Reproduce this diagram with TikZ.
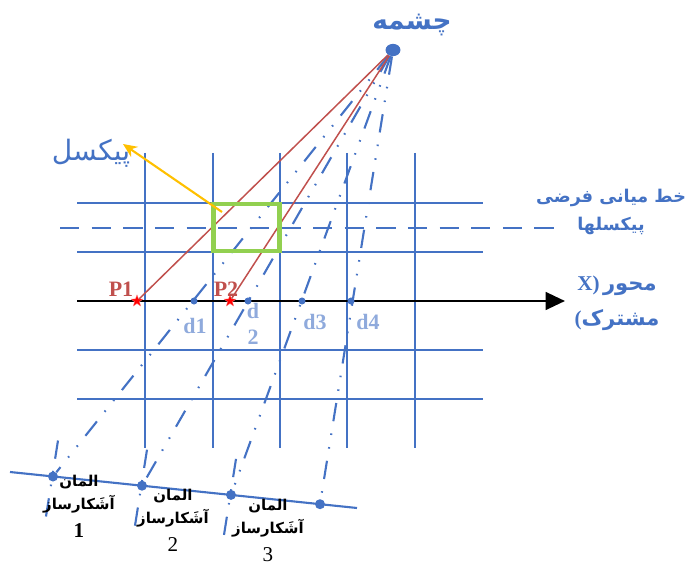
\documentclass[tikz,border=0pt]{standalone}
\usepackage{fontspec}
\setmainfont{Liberation Serif}
\newfontfamily\arabicfont[Script=Arabic]{DejaVu Sans}
\TeXXeTstate=1
\usetikzlibrary{arrows.meta,calc,positioning,shapes.geometric}
\definecolor{cgrid}{RGB}{68,114,196}
\definecolor{cdlab}{RGB}{143,170,220}
\definecolor{cray}{RGB}{192,80,77}
\definecolor{cpix}{RGB}{146,208,80}
\definecolor{cptr}{RGB}{255,192,0}
\tikzset{
  gridline/.style={cgrid,line width=1.4pt},
  midline/.style={cgrid,line width=1.4pt,dash pattern=on 11pt off 7pt},
  detline/.style={cgrid,line width=1.2pt},
  axisline/.style={line width=1.5pt,-{Triangle[length=11pt,width=10pt]}},
  % dash dot dot rays from the source to the detector elements
  beam/.style={cgrid,line width=1.2pt,
    dash pattern=on 10.5pt off 7pt on 0.9pt off 7pt on 0.9pt off 7pt},
  ray/.style={cray,line width=0.85pt},
  pointer/.style={cptr,line width=1.2pt,-{Stealth[length=8pt,width=7pt]}},
  pixbox/.style={draw=cpix,line width=2.8pt},
  srcdot/.style={ellipse,fill=cgrid,inner sep=0pt,minimum width=8.5pt,minimum height=7pt},
  ddot/.style={circle,fill=cgrid,inner sep=0pt,minimum size=4pt},
  edot/.style={circle,fill=cgrid,inner sep=0pt,minimum size=5.7pt},
  pstar/.style={star,star points=5,star point ratio=2.4,fill=red,draw=red!50,
    line width=0.2pt,inner sep=0pt,minimum size=7pt},
  plab/.style={font=\bfseries\fontsize{12.5}{14}\selectfont,text=cray,inner sep=0pt},
  dlab/.style={font=\bfseries\fontsize{12.5}{14.7}\selectfont,text=cdlab,inner sep=0pt},
  falab/.style={text=cgrid,inner sep=0pt,align=center},
  elab/.style={anchor=north,align=center,inner sep=0pt,
    font=\arabicfont\bfseries\fontsize{8.5}{13}\selectfont}
}
\begin{document}
\begin{tikzpicture}[x=0.02cm,y=-0.02cm]
  \useasboundingbox (0,0) rectangle (689,570);
  % pixel grid, and the dashed line through the pixel centres
  \foreach \x in {145,213,280,347,415} \draw[gridline] (\x,153) -- (\x,448);
  \foreach \y in {203,252,350,399} \draw[gridline] (77,\y) -- (483,\y);
  \draw[midline] (60,228) -- (560,228);
  % source and detector row
  \node[srcdot] (src) at (393,50) {};
  \coordinate (dA) at (10,472);
  \coordinate (dB) at (357,508);
  \draw[detline] (dA) -- (dB);
  \foreach \n/\x/\y in {e1/53/476.5,e2/142/485.7,e3/231/494.9,e4/320/504.2}
    \node[edot] (\n) at (\x,\y) {};
  \foreach \i in {1,...,4} \draw[beam] (src) -- (e\i);
  \foreach \i in {1,2,3} \draw[beam] ($(e\i)+(5,-36)$) -- ($(e\i)+(-7,40)$);
  % common axis with the sample points
  \coordinate (ax0) at (77,301);
  \coordinate (ax1) at (565,301);
  \draw[axisline] (ax0) -- (ax1);
  \foreach \n/\x in {d1/194,d2/248,d3/302,d4/351}
    \node[ddot] (\n) at (\x,301) {};
  \node[pstar] (p1) at (137,301) {};
  \node[pstar] (p2) at (230,301) {};
  \draw[ray] (src) -- (p1);
  \draw[ray] (src) -- (p2);
  % the pixel
  \draw[pixbox] (213.5,204) rectangle (279.5,251);
  \coordinate (pxin) at (222,212);
  \coordinate (pxtip) at (123,144);
  \draw[pointer] (pxin) -- (pxtip);
  % labels
  \node[falab,font=\arabicfont\bfseries\fontsize{15}{18}\selectfont] (srclab) at (412,25) {\beginR چشمه\endR};
  \node[falab,font=\arabicfont\fontsize{16}{18}\selectfont] (pxlab) at (91,153) {\beginR پیکسل\endR};
  \node[falab,font=\arabicfont\bfseries\fontsize{10}{16.4}\selectfont] (midlab) at (611,212)
    {\beginR خط میانی فرضی\endR\\\beginR پیکسلها\endR};
  \node[falab,font=\arabicfont\bfseries\fontsize{12}{20}\selectfont] (axlab) at (617,303)
    {{\rmfamily\bfseries X)}\,\beginR محور\endR\\{\rmfamily(}\beginR مشترک\endR};
  \node[plab] (p1lab) at (121,289) {P1};
  \node[plab] (p2lab) at (226,289) {P2};
  \node[dlab] (d1lab) at (195,326) {d1};
  \node[dlab,align=center] (d2lab) at (253,324) {d\\2};
  \node[dlab] (d3lab) at (315,322) {d3};
  \node[dlab] (d4lab) at (368,322) {d4};
  \node[elab] (e1lab) at (79,475) {\beginR المان\endR\\\beginR آشَکارساز\endR\\[3pt]{\rmfamily\bfseries\fontsize{12}{14}\selectfont 1}};
  \node[elab] (e2lab) at (173,489) {\beginR المان\endR\\\beginR آشَکارساز\endR\\[3pt]{\rmfamily\mdseries\fontsize{12}{14}\selectfont 2}};
  \node[elab] (e3lab) at (268,499) {\beginR المان\endR\\\beginR آشَکارساز\endR\\[3pt]{\rmfamily\mdseries\fontsize{12}{14}\selectfont 3}};
\end{tikzpicture}
\end{document}
